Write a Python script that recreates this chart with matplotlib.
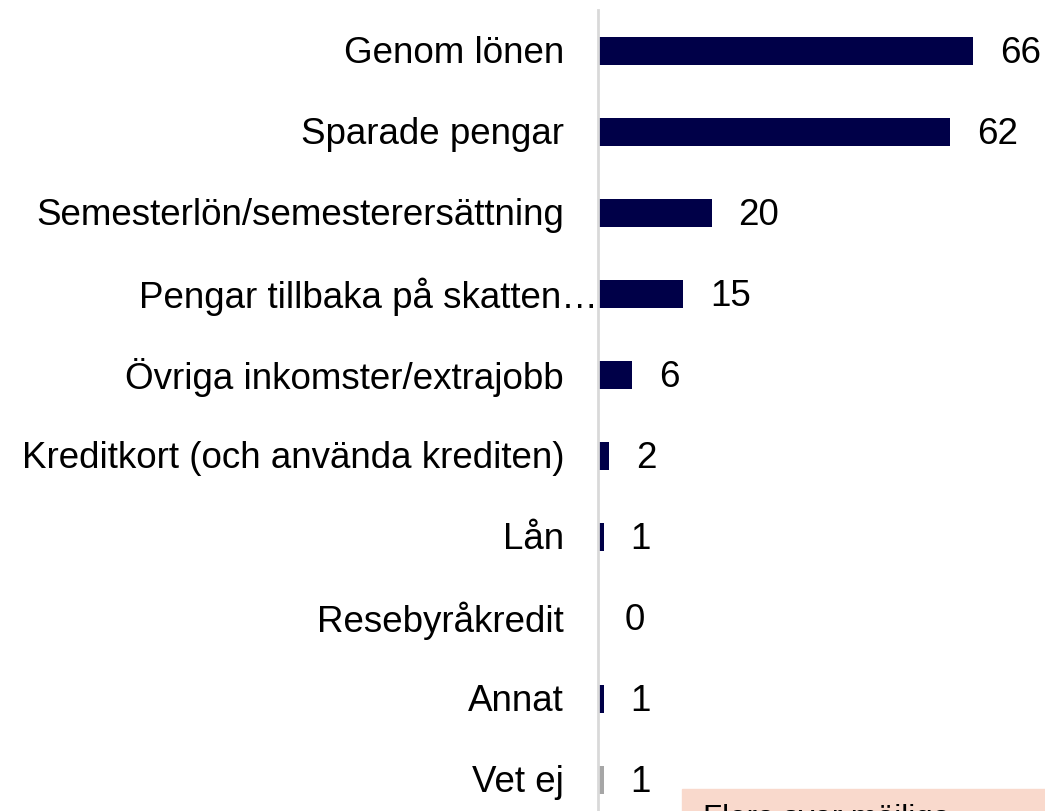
import matplotlib.pyplot as plt
from matplotlib.patches import Rectangle

plt.rcParams['font.family'] = ['Liberation Sans', 'DejaVu Sans']

categories = ["Genom lönen", "Sparade pengar", "Semesterlön/semesterersättning",
              "Pengar tillbaka på skatten…", "Övriga inkomster/extrajobb",
              "Kreditkort (och använda krediten)", "Lån", "Resebyråkredit",
              "Annat", "Vet ej"]
values = [66, 62, 20, 15, 6, 2, 1, 0, 1, 1]
colors = ["#000048"] * 9 + ["#A6A6A6"]
note = "Flera svar möjliga"

W, H = 1045, 811
fig = plt.figure(figsize=(W / 100, H / 100), dpi=100)
x0 = 598
ax = fig.add_axes([x0 / W, 0, (W - x0) / W, (H - 10) / H])

pos = list(range(len(values)))
ax.barh(pos, values, height=0.345, color=colors)
ax.set_xlim(0, (W - x0) / 5.68)
ax.set_ylim(9 + 31 / 81, -41 / 81)

fs = 26.5
for i, (lab, v) in enumerate(zip(categories, values)):
    pad = 0 if lab.endswith("…") else 34
    ax.annotate(lab, (0, i), xytext=(-pad, -3), textcoords='offset pixels',
                ha='right', va='center', fontsize=fs, color='black',
                annotation_clip=False)
    ax.annotate(str(v), (v, i), xytext=(27, -3), textcoords='offset pixels',
                ha='left', va='center', fontsize=fs, color='black')

ax.set_xticks([]); ax.set_yticks([])
for s in ['top', 'right', 'bottom']:
    ax.spines[s].set_visible(False)
ax.spines['left'].set_color('#D9D9D9')
ax.spines['left'].set_linewidth(2)

# note box cut off at bottom
fig.patches.append(Rectangle((682 / W, 0), (W - 682) / W, (H - 789) / H,
                             transform=fig.transFigure, color='#F9D9CC', zorder=0))
fig.text(703 / W, (H - 804) / H, note, ha='left', va='top', fontsize=fs * 0.85,
         color='black')

fig.savefig("out.png", dpi=100)
